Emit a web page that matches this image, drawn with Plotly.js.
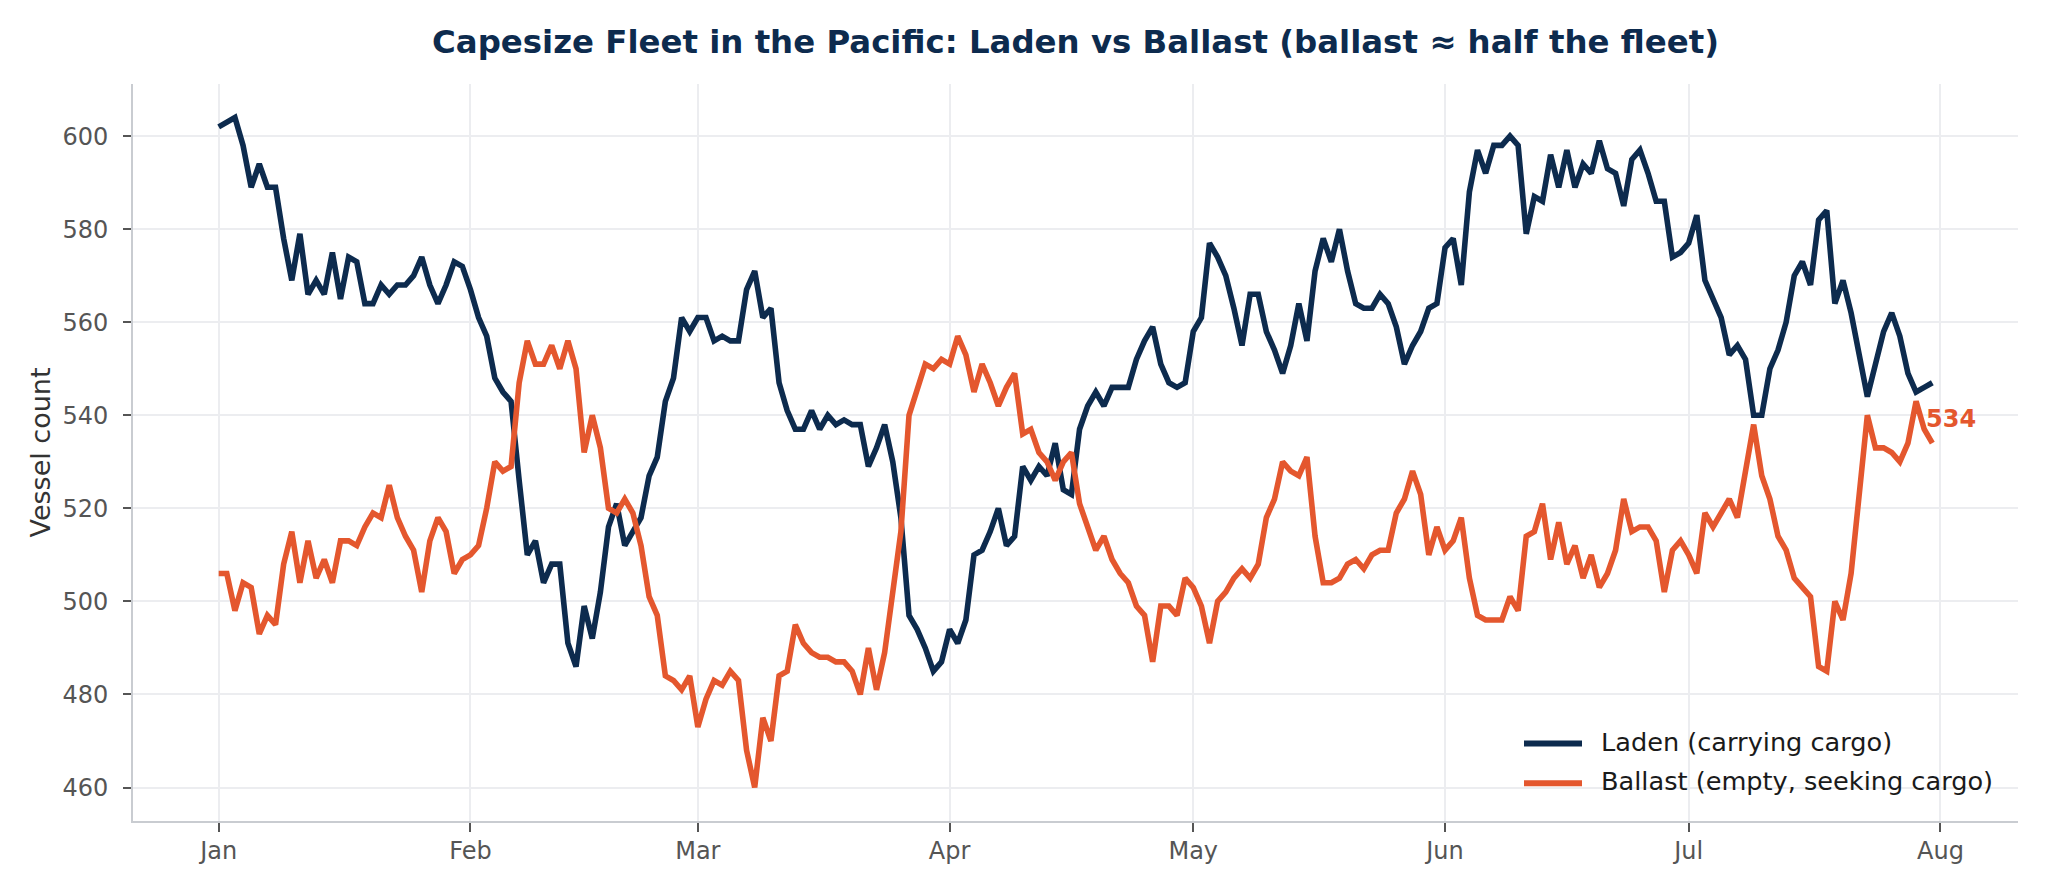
<!DOCTYPE html>
<html>
<head>
<meta charset="utf-8">
<script src="https://cdn.plot.ly/plotly-3.0.1.min.js"></script>
<style>
  html, body { margin: 0; padding: 0; background: #ffffff; }
  #chart { width: 2046px; height: 893px; }
</style>
</head>
<body>
<div id="chart"></div>
<script>
// ---- data (daily, 2025-01-01 .. 2025-07-31) ----
const startDate = '2025-01-01';
const laden = [
  602,603,604,598,589,594,589,589,578,569,
  579,566,569,566,575,565,574,573,564,564,
  568,566,568,568,570,574,568,564,568,573,
  572,567,561,557,548,545,543,526,510,513,
  504,508,508,491,486,499,492,502,516,521,
  512,515,518,527,531,543,548,561,558,561,
  561,556,557,556,556,567,571,561,563,547,
  541,537,537,541,537,540,538,539,538,538,
  529,533,538,530,518,497,494,490,485,487,
  494,491,496,510,511,515,520,512,514,529,
  526,529,527,534,524,523,537,542,545,542,
  546,546,546,552,556,559,551,547,546,547,
  558,561,577,574,570,563,555,566,566,558,
  554,549,555,564,556,571,578,573,580,571,
  564,563,563,566,564,559,551,555,558,563,
  564,576,578,568,588,597,592,598,598,600,
  598,579,587,586,596,589,597,589,594,592,
  599,593,592,585,595,597,592,586,586,574,
  575,577,583,569,565,561,553,555,552,540,
  540,550,554,560,570,573,568,582,584,564,
  569,562,553,544,551,558,562,557,549,545,
  546,547
];
const ballast = [
  506,506,498,504,503,493,497,495,508,515,
  504,513,505,509,504,513,513,512,516,519,
  518,525,518,514,511,502,513,518,515,506,
  509,510,512,520,530,528,529,547,556,551,
  551,555,550,556,550,532,540,533,520,519,
  522,519,512,501,497,484,483,481,484,473,
  479,483,482,485,483,468,460,475,470,484,
  485,495,491,489,488,488,487,487,485,480,
  490,481,489,503,515,540,546,551,550,552,
  551,557,553,545,551,547,542,546,549,536,
  537,532,530,526,530,532,521,516,511,514,
  509,506,504,499,497,487,499,499,497,505,
  503,499,491,500,502,505,507,505,508,518,
  522,530,528,527,531,514,504,504,505,508,
  509,507,510,511,511,519,522,528,523,510,
  516,511,513,518,505,497,496,496,496,501,
  498,514,515,521,509,517,508,512,505,510,
  503,506,511,522,515,516,516,513,502,511,
  513,510,506,519,516,519,522,518,528,538,
  527,522,514,511,505,503,501,486,485,500,
  496,506,522,540,533,533,532,530,534,543,
  537,534
];
const seriesNames = ['Laden (carrying cargo)', 'Ballast (empty, seeking cargo)'];
const chartTitle = 'Capesize Fleet in the Pacific: Laden vs Ballast (ballast \u2248 half the fleet)';
const yTitle = 'Vessel count';
const yTicks = [460, 480, 500, 520, 540, 560, 580, 600];

// daily date categories
function buildDates(start, n) {
  const out = [];
  const t0 = Date.parse(start + 'T00:00:00Z');
  for (let i = 0; i < n; i++) {
    const d = new Date(t0 + i * 86400000);
    out.push(d.toISOString().slice(0, 10));
  }
  return out;
}
const dates = buildDates(startDate, laden.length);

const NAVY = '#0d2b4e';
const ORANGE = '#e4572e';
const FONT = 'DejaVu Sans, Verdana, sans-serif';
const colors = [NAVY, ORANGE];

const traces = [
  { x: dates, y: laden, type: 'scatter', mode: 'lines', name: seriesNames[0],
    line: { color: NAVY, width: 5.6 }, hoverinfo: 'x+y', showlegend: false },
  { x: dates, y: ballast, type: 'scatter', mode: 'lines', name: seriesNames[1],
    line: { color: ORANGE, width: 5.6 }, hoverinfo: 'x+y', showlegend: false }
];

const lastIdx = ballast.length - 1;

// legend geometry (paper coordinates; plot area 133..2018 x, 84..821 y)
const W = 1885, H = 737;
const px = function (v) { return (v - 133) / W; };
const py = function (v) { return (821 - v) / H; };
const legendRows = [743.5, 783.2];

const legendShapes = seriesNames.map(function (nm, i) {
  return {
    type: 'line', xref: 'paper', yref: 'paper',
    x0: px(1524), x1: px(1582), y0: py(legendRows[i]), y1: py(legendRows[i]),
    line: { color: colors[i], width: 6 }
  };
});
const legendTexts = seriesNames.map(function (nm, i) {
  return {
    xref: 'paper', yref: 'paper', x: px(1599), y: py(legendRows[i]),
    text: nm, showarrow: false, xanchor: 'left', yanchor: 'middle', yshift: 2,
    font: { family: FONT, size: 25.6, color: '#1a1a1a' }
  };
});

const layout = {
  width: 2046, height: 893,
  paper_bgcolor: '#ffffff', plot_bgcolor: '#ffffff',
  margin: { l: 133, r: 28, t: 84, b: 72, autoexpand: false },
  font: { family: FONT, color: '#333333' },
  title: {
    text: chartTitle,
    font: { family: FONT, size: 32.4, color: NAVY, weight: 'bold' },
    x: 0.5, xref: 'paper', xanchor: 'center',
    y: 1 - 42 / 893, yref: 'container', yanchor: 'middle'
  },
  xaxis: {
    type: 'date',
    range: ['2024-12-21 10:48', '2025-08-10 13:12'],
    tick0: '2025-01-01', dtick: 'M1', tickformat: '%b',
    showgrid: true, gridcolor: '#ecedf0', gridwidth: 1.5,
    showline: true, linecolor: '#c9ccd1', linewidth: 2, mirror: false,
    zeroline: false,
    ticks: 'outside', ticklen: 9, tickwidth: 2, tickcolor: '#555555',
    tickfont: { family: FONT, size: 24, color: '#555555' },
    ticklabelstandoff: -2,
    automargin: false
  },
  yaxis: {
    range: [452.8, 611.2],
    tickvals: yTicks,
    ticktext: yTicks.map(String),
    showgrid: true, gridcolor: '#ecedf0', gridwidth: 1.5,
    showline: true, linecolor: '#c9ccd1', linewidth: 2, mirror: false,
    zeroline: false,
    ticks: 'outside', ticklen: 8, tickwidth: 2, tickcolor: '#555555',
    tickfont: { family: FONT, size: 24, color: '#555555' },
    ticklabelstandoff: 10,
    title: { text: yTitle, font: { family: FONT, size: 27, color: '#333333' }, standoff: 4 },
    automargin: false
  },
  showlegend: false,
  shapes: legendShapes,
  annotations: [
    {
      x: dates[lastIdx], y: ballast[lastIdx], xref: 'x', yref: 'y',
      text: '<b>' + ballast[lastIdx] + '</b>', showarrow: false,
      xanchor: 'left', yanchor: 'middle', xshift: -8, yshift: 24,
      font: { family: FONT, size: 24, color: ORANGE }
    }
  ].concat(legendTexts)
};

Plotly.newPlot('chart', traces, layout, { displayModeBar: false });
</script>
</body>
</html>
